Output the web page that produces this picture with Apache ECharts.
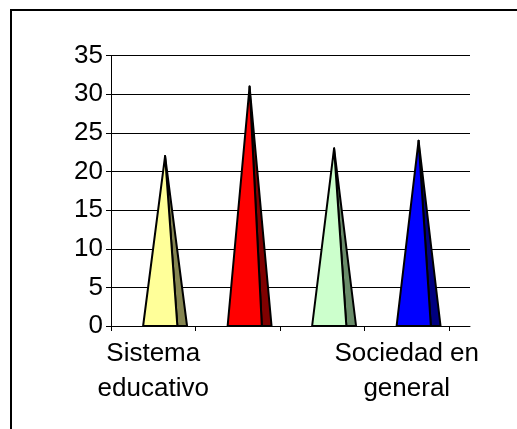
<!DOCTYPE html>
<html>
<head>
<meta charset="utf-8">
<script src="https://cdn.jsdelivr.net/npm/echarts@6/dist/echarts.min.js"></script>
<style>
  html, body { margin: 0; padding: 0; background: #fff; }
  #chart { width: 517px; height: 429px; }
</style>
</head>
<body>
<div id="chart"></div>
<script>
// categorías (sólo la primera y la última llevan texto en el eje)
const categories = ['Sistema\neducativo', '', '', 'Sociedad en\ngeneral']
const values = [22, 31, 23, 24]
const yTicks = [0, 5, 10, 15, 20, 25, 30, 35]

// colores de cara frontal y lateral de cada pirámide
const frontColors = ['#FFFF99', '#FF0000', '#CCFFCC', '#0000FF']
const sideColors = ['#858551', '#800000', '#6A8C6A', '#000080']

const chart = echarts.init(document.getElementById('chart'))
const font = 'Liberation Sans, Arial, sans-serif'

const option = {
  animation: false,
  backgroundColor: '#fff',
  textStyle: { fontFamily: font },
  graphic: [
    {
      type: 'rect',
      shape: { x: 11, y: 10, width: 700, height: 600 },
      style: { fill: 'none', stroke: '#000', lineWidth: 2 },
      z: 100
    }
  ],
  grid: [
    // fondo con líneas de división (más ancho por la profundidad 3D)
    { left: 111, right: 47, top: 55.7, bottom: 103 },
    // rejilla de las categorías
    { left: 111, right: 68, top: 55.7, bottom: 103 }
  ],
  xAxis: [
    {
      gridIndex: 0,
      type: 'value',
      min: 0,
      max: 1,
      axisLine: { show: true, lineStyle: { color: '#000', width: 1 } },
      axisTick: { show: false },
      axisLabel: { show: false },
      splitLine: { show: false }
    },
    {
      gridIndex: 1,
      type: 'category',
      data: categories,
      boundaryGap: true,
      axisLine: { show: false },
      axisTick: { show: true, length: 5, lineStyle: { color: '#000' } },
      axisLabel: {
        interval: 0,
        color: '#000',
        fontSize: 26,
        lineHeight: 35,
        margin: 10,
        fontFamily: font
      }
    }
  ],
  yAxis: [
    {
      gridIndex: 0,
      type: 'value',
      min: 0,
      max: yTicks[yTicks.length - 1],
      interval: 5,
      axisLine: { show: true, lineStyle: { color: '#000', width: 1 } },
      axisTick: { show: true, length: 5, lineStyle: { color: '#000' } },
      axisLabel: { color: '#000', fontSize: 26, margin: 8, fontFamily: font },
      splitLine: { show: true, lineStyle: { color: '#000', width: 1 } }
    },
    {
      gridIndex: 1,
      type: 'value',
      min: 0,
      max: 35,
      show: false
    }
  ],
  series: [
    {
      type: 'custom',
      xAxisIndex: 1,
      yAxisIndex: 1,
      data: values.map((v, i) => [i, v]),
      renderItem: function (params, api) {
        const idx = api.value(0)
        const top = api.coord([idx, api.value(1)])
        const base = api.coord([idx, 0])
        const bw = api.size([1, 0])[0]
        const c = base[0]
        const apex = [c + 0.14 * bw, top[1]]
        const left = [c - 0.12 * bw, base[1]]
        const frontRight = [c + 0.285 * bw, base[1]]
        const sideRight = [c + 0.40 * bw, base[1]]
        return {
          type: 'group',
          children: [
            {
              type: 'polygon',
              shape: { points: [apex, frontRight, sideRight] },
              style: { fill: sideColors[idx], stroke: '#000', lineWidth: 2, lineJoin: 'round' }
            },
            {
              type: 'polygon',
              shape: { points: [apex, left, frontRight] },
              style: { fill: frontColors[idx], stroke: '#000', lineWidth: 2, lineJoin: 'round' }
            }
          ]
        }
      }
    }
  ]
}

chart.setOption(option)
</script>
</body>
</html>
